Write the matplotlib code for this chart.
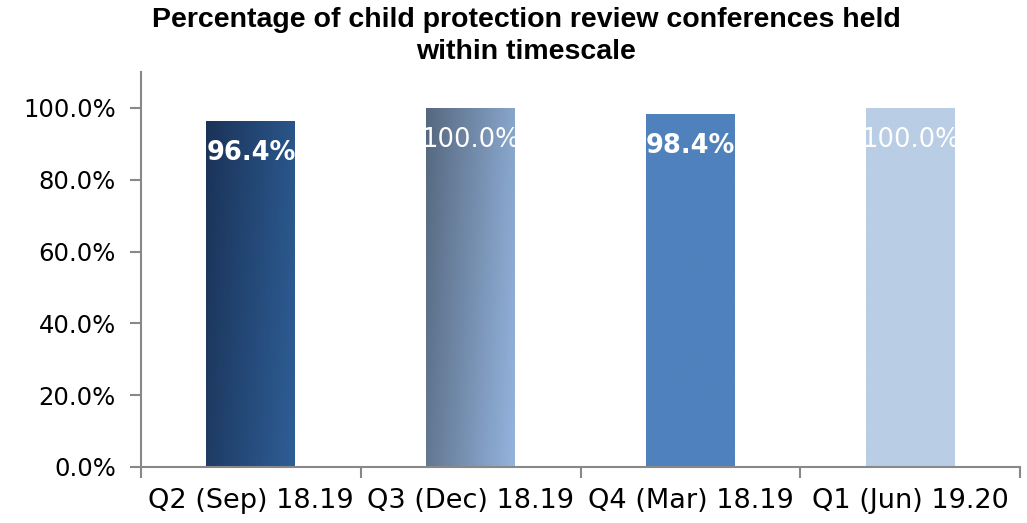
import numpy as np
import matplotlib
matplotlib.use("Agg")
import matplotlib.pyplot as plt
from matplotlib.colors import LinearSegmentedColormap

categories = ["Q2 (Sep) 18.19", "Q3 (Dec) 18.19", "Q4 (Mar) 18.19", "Q1 (Jun) 19.20"]
values = [0.964, 1.000, 0.984, 1.000]
labels = ["96.4%", "100.0%", "98.4%", "100.0%"]
yticks = [0.0, 0.2, 0.4, 0.6, 0.8, 1.0]
ytick_labels = ["0.0%", "20.0%", "40.0%", "60.0%", "80.0%", "100.0%"]

grad = [("#1a3358", "#2e5e96"), ("#56687f", "#94b4de"), ("#4f81bd", "#4f81bd"), ("#b9cde5", "#b9cde5")]
label_weight = ["bold", "normal", "bold", "normal"]

plt.rcParams['font.family'] = ['DejaVu Sans']
fig = plt.figure(figsize=(10.27, 5.23), dpi=100)
ax = fig.add_axes([141/1027, 1-467/523, (1020-141)/1027, (467-72)/523])

x = np.arange(len(categories))
bars = ax.bar(x, values, width=0.405, color="none", zorder=2)
ax.set_xlim(-0.5, len(categories)-0.5)
ax.set_ylim(0, 1.1)

for b, (c1, c2) in zip(bars, grad):
    x0, y0 = b.get_x(), b.get_y()
    w, h = b.get_width(), b.get_height()
    cmap = LinearSegmentedColormap.from_list("g", [c1, c2])
    xx, yy = np.meshgrid(np.linspace(0, 1, 100), np.linspace(0, 1, 100))
    g = 0.8*xx + 0.2*(1-yy)
    im = ax.imshow(g, cmap=cmap, extent=[x0, x0+w, y0, y0+h], origin="lower",
                   aspect="auto", zorder=2, vmin=0, vmax=1, interpolation="bilinear")
    im.set_clip_path(b)

ax.set_xlim(-0.5, len(categories)-0.5)
ax.set_ylim(0, 1.1)

for xi, v, lab, wgt in zip(x, values, labels, label_weight):
    ax.text(xi, v-0.09, lab, ha="center", va="center", color="white",
            fontsize=18.5, fontweight=wgt, zorder=3)

ax.set_yticks(yticks)
ax.set_yticklabels(ytick_labels, fontsize=17.5)
ax.set_xticks(x)
ax.set_xticklabels(categories, fontsize=19.5)
ax.tick_params(axis="x", length=0, pad=15)
ax.set_xticks(np.arange(-0.5, len(categories)), minor=True)
ax.tick_params(axis="x", which="minor", length=8, width=1.5, color="#888888", direction="out")
ax.tick_params(axis="y", length=8, width=1.5, color="#888888", pad=10)
for s in ["top", "right"]:
    ax.spines[s].set_visible(False)
for s in ["left", "bottom"]:
    ax.spines[s].set_color("#888888")
    ax.spines[s].set_linewidth(1.5)

fig.text(526/1027, 1-36/523, "Percentage of child protection review conferences held\nwithin timescale",
         ha="center", va="center", fontsize=20.5, fontweight="bold",
         family="Liberation Sans", linespacing=1.28)

fig.savefig("out.png", dpi=100)
